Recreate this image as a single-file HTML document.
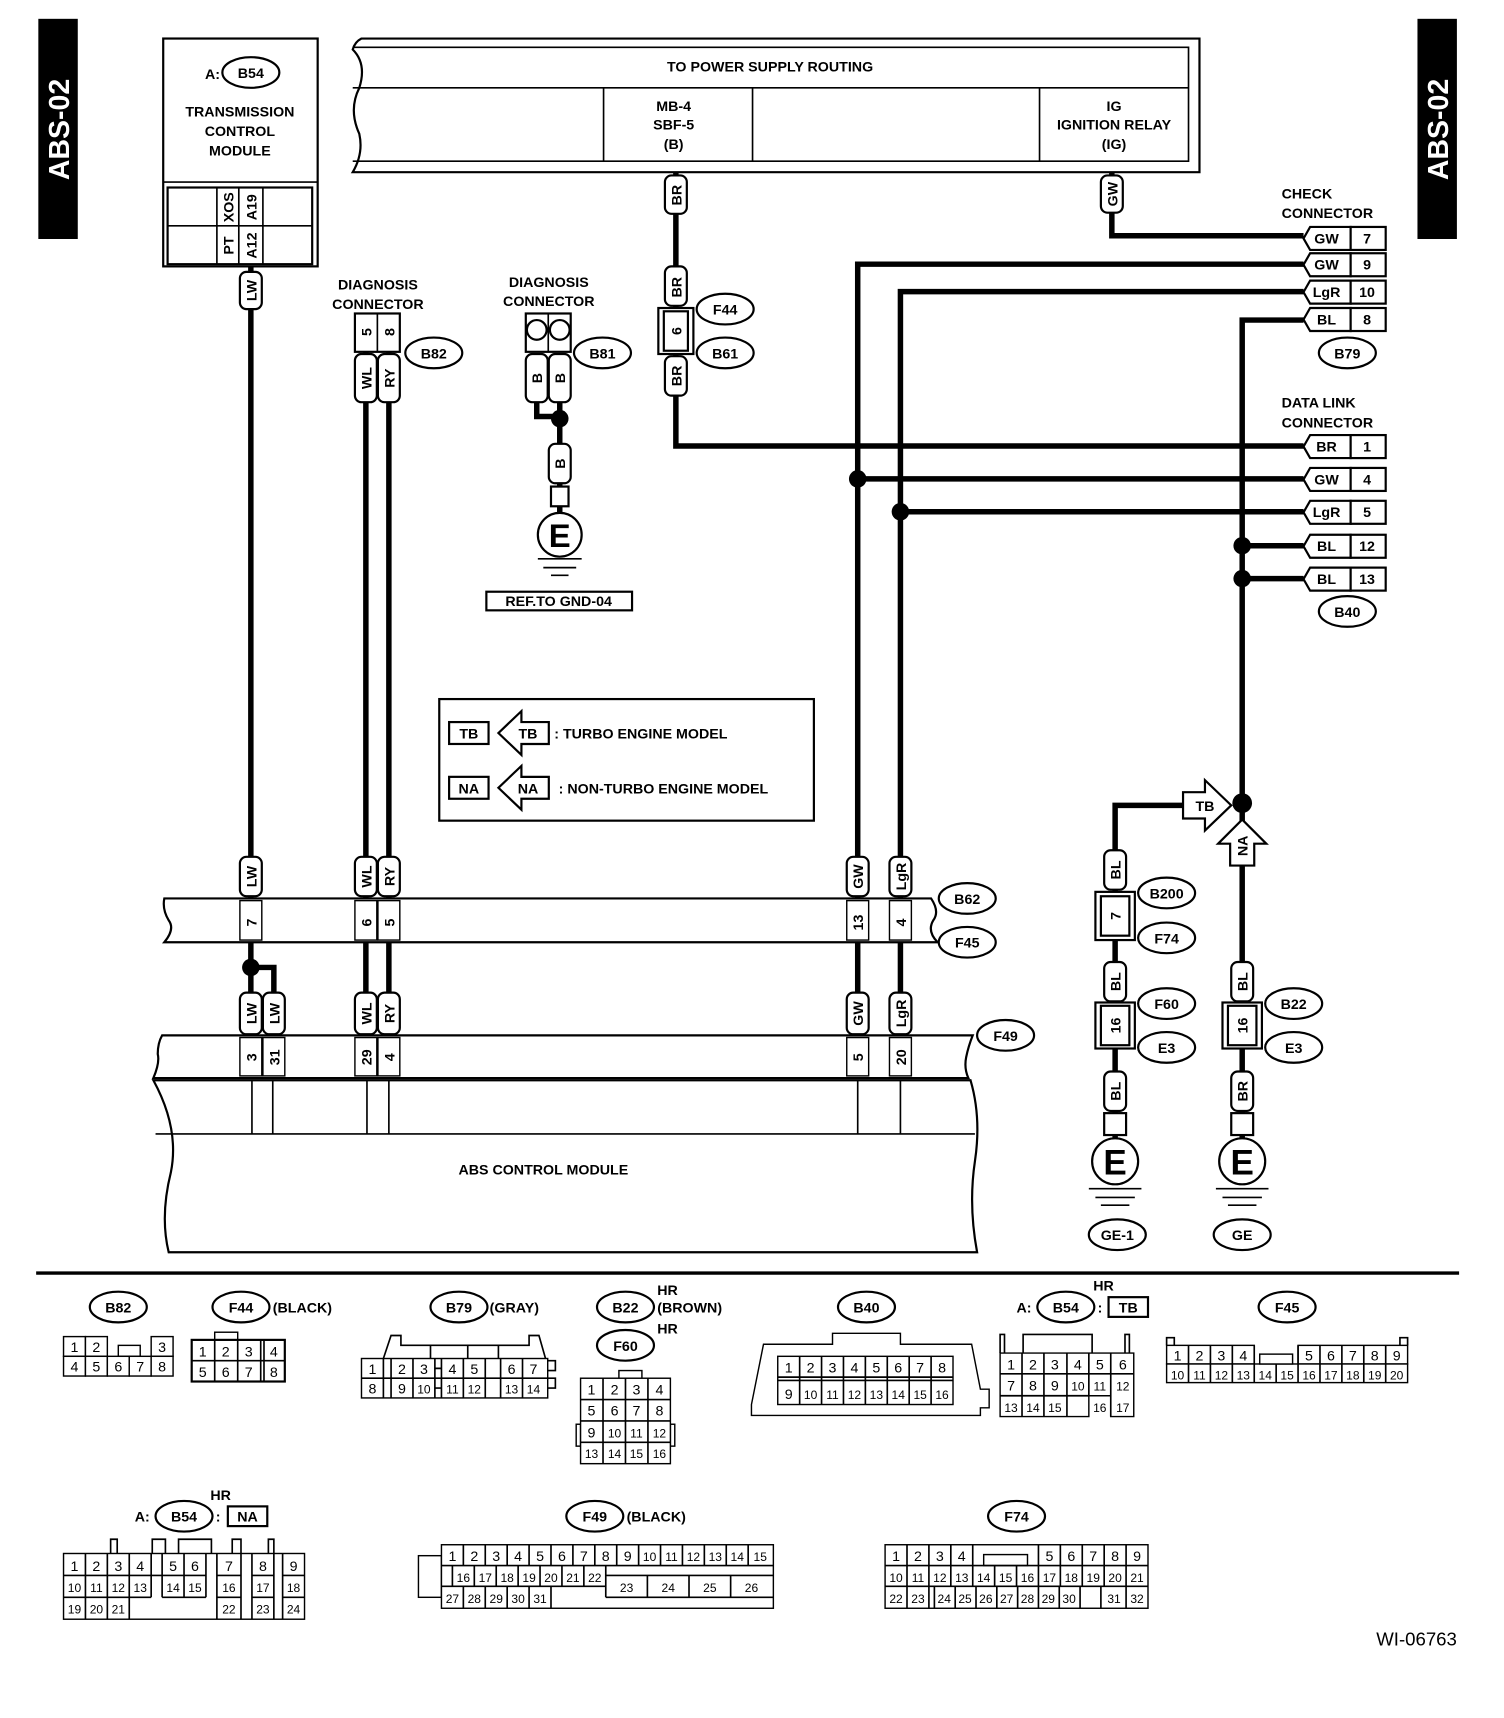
<!DOCTYPE html>
<html><head><meta charset="utf-8"><style>
html,body{margin:0;padding:0;background:#fff}
svg{display:block}
text{font-family:"Liberation Sans",sans-serif}
.b{font-weight:bold;font-size:13px}
.n{font-size:13px}
.o{fill:#fff;stroke:#000;stroke-width:2}
.w{fill:none;stroke:#000;stroke-width:5}
.l{fill:none;stroke:#000;stroke-width:1.5}
.c{fill:#fff;stroke:#000;stroke-width:1.3}
</style></head><body>
<svg width="1504" height="1718" viewBox="0 0 1373 1568" xmlns="http://www.w3.org/2000/svg">
<!-- side tabs -->
<rect x="35" y="17" width="36" height="201" fill="#000"/>
<text transform="translate(63,118) rotate(-90)" text-anchor="middle" fill="#fff" font-size="26" font-weight="bold">ABS-02</text>
<rect x="1294" y="17" width="36" height="201" fill="#000"/>
<text transform="translate(1322,118) rotate(-90)" text-anchor="middle" fill="#fff" font-size="26" font-weight="bold">ABS-02</text>

<!-- wires -->
<g class="w">
<path d="M229 243V945"/>
<path d="M334 320V945M355 320V945"/>
<path d="M490 360V380H511M511 360V470"/>
<path d="M617 157V407H1190"/>
<path d="M1015 157V215H1190"/>
<path d="M783 945V241H1190M783 437H1190"/>
<path d="M822 945V266H1190M822 467H1190"/>
<path d="M1134 1040V292H1190M1134 498H1190M1134 528H1190"/>
<path d="M1018 1040V735H1080"/>
<path d="M229 883H250V905"/>
</g>
<g fill="#000">
<circle cx="511" cy="382" r="8"/><circle cx="783" cy="437" r="8"/><circle cx="822" cy="467" r="8"/>
<circle cx="1134" cy="498" r="8"/><circle cx="1134" cy="528" r="8"/><circle cx="1134" cy="733" r="9"/>
<circle cx="229" cy="883" r="8"/>
</g>

<!-- TCM -->
<rect x="149" y="35" width="141" height="208" class="o"/>
<line x1="149" y1="166" x2="290" y2="166" class="l" stroke-width="2"/>
<rect x="153" y="171" width="132" height="70" class="o"/>
<path d="M153 206H285M198 171V241M218 171V241M240 171V241" class="l"/>
<text x="194" y="72" class="b" text-anchor="middle">A:</text>
<ellipse cx="229" cy="66" rx="26" ry="14" class="o"/><text x="229" y="71" class="b" text-anchor="middle">B54</text>
<text x="219" y="106" class="b" text-anchor="middle">TRANSMISSION</text>
<text x="219" y="124" class="b" text-anchor="middle">CONTROL</text>
<text x="219" y="142" class="b" text-anchor="middle">MODULE</text>
<text transform="translate(213,189) rotate(-90)" class="b" text-anchor="middle">XOS</text>
<text transform="translate(234,189) rotate(-90)" class="b" text-anchor="middle">A19</text>
<text transform="translate(213,224) rotate(-90)" class="b" text-anchor="middle">PT</text>
<text transform="translate(234,224) rotate(-90)" class="b" text-anchor="middle">A12</text>

<!-- power supply -->
<path d="M330 35H1095V157H322Q332 140 328 122Q318 100 328 80Q335 58 322 45Q324 38 330 35Z" class="o"/>
<path d="M322 43H1085V147H322M322 80H1085M551 80V147M687 80V147M949 80V147" class="l"/>
<text x="703" y="65" class="b" text-anchor="middle">TO POWER SUPPLY ROUTING</text>
<text x="615" y="101" class="b" text-anchor="middle">MB-4</text>
<text x="615" y="118" class="b" text-anchor="middle">SBF-5</text>
<text x="615" y="136" class="b" text-anchor="middle">(B)</text>
<text x="1017" y="101" class="b" text-anchor="middle">IG</text>
<text x="1017" y="118" class="b" text-anchor="middle">IGNITION RELAY</text>
<text x="1017" y="136" class="b" text-anchor="middle">(IG)</text>

<!-- wire label boxes -->
<g>
<rect x="219" y="248" width="20" height="34" rx="6" class="o"/><text transform="translate(234,265) rotate(-90)" class="b" text-anchor="middle">LW</text>
<rect x="607" y="160" width="20" height="35" rx="6" class="o"/><text transform="translate(622,178) rotate(-90)" class="b" text-anchor="middle">BR</text>
<rect x="607" y="243" width="20" height="36" rx="6" class="o"/><text transform="translate(622,262) rotate(-90)" class="b" text-anchor="middle">BR</text>
<rect x="601" y="281" width="32" height="42" class="o"/><rect x="606" y="284" width="22" height="36" class="o"/><text transform="translate(622,302) rotate(-90)" class="b" text-anchor="middle">6</text>
<rect x="607" y="325" width="20" height="36" rx="6" class="o"/><text transform="translate(622,343) rotate(-90)" class="b" text-anchor="middle">BR</text>
<rect x="1005" y="160" width="20" height="34" rx="6" class="o"/><text transform="translate(1020,177) rotate(-90)" class="b" text-anchor="middle">GW</text>
<!-- B82 -->
<rect x="324" y="286" width="41" height="35" class="o"/><line x1="344.5" y1="286" x2="344.5" y2="321" class="l"/>
<text transform="translate(339,303) rotate(-90)" class="b" text-anchor="middle">5</text>
<text transform="translate(360,303) rotate(-90)" class="b" text-anchor="middle">8</text>
<rect x="324" y="323" width="20" height="44" rx="6" class="o"/><text transform="translate(339,345) rotate(-90)" class="b" text-anchor="middle">WL</text>
<rect x="345" y="323" width="20" height="44" rx="6" class="o"/><text transform="translate(360,345) rotate(-90)" class="b" text-anchor="middle">RY</text>
<!-- B81 -->
<rect x="480" y="286" width="41" height="35" class="o"/><line x1="500.5" y1="286" x2="500.5" y2="321" class="l"/>
<circle cx="490" cy="301" r="9" class="o"/><circle cx="511" cy="301" r="9" class="o"/>
<rect x="480" y="323" width="20" height="44" rx="6" class="o"/><text transform="translate(495,345) rotate(-90)" class="b" text-anchor="middle">B</text>
<rect x="501" y="323" width="20" height="44" rx="6" class="o"/><text transform="translate(516,345) rotate(-90)" class="b" text-anchor="middle">B</text>
<rect x="501" y="405" width="20" height="36" rx="6" class="o"/><text transform="translate(516,423) rotate(-90)" class="b" text-anchor="middle">B</text>
<rect x="503" y="444" width="16" height="18" class="o"/>
<circle cx="511" cy="488" r="20" class="o"/><text x="511" y="499" text-anchor="middle" font-size="30" font-weight="bold">E</text>
<path d="M491 510H531M496 518H526M503 525H519" class="l" stroke-width="2"/>
<rect x="444" y="540" width="133" height="17" class="o"/><text x="510" y="553" class="b" text-anchor="middle">REF.TO GND-04</text>
</g>
<text x="345" y="264" class="b" text-anchor="middle">DIAGNOSIS</text>
<text x="345" y="282" class="b" text-anchor="middle">CONNECTOR</text>
<text x="501" y="262" class="b" text-anchor="middle">DIAGNOSIS</text>
<text x="501" y="279" class="b" text-anchor="middle">CONNECTOR</text>
<ellipse cx="396" cy="322" rx="26" ry="14" class="o"/><text x="396" y="327" class="b" text-anchor="middle">B82</text>
<ellipse cx="550" cy="322" rx="26" ry="14" class="o"/><text x="550" y="327" class="b" text-anchor="middle">B81</text>
<ellipse cx="662" cy="282" rx="26" ry="14" class="o"/><text x="662" y="287" class="b" text-anchor="middle">F44</text>
<ellipse cx="662" cy="322" rx="26" ry="14" class="o"/><text x="662" y="327" class="b" text-anchor="middle">B61</text>

<!-- check connector -->
<text x="1170" y="181" class="b">CHECK</text>
<text x="1170" y="199" class="b">CONNECTOR</text>
<g>
<path d="M1196 207H1233V228H1196L1190 217.5Z" class="o"/><rect x="1233" y="207" width="32" height="21" class="o"/>
<text x="1211" y="222" class="b" text-anchor="middle">GW</text><text x="1248" y="222" class="b" text-anchor="middle">7</text>
<path d="M1196 231H1233V252H1196L1190 241.5Z" class="o"/><rect x="1233" y="231" width="32" height="21" class="o"/>
<text x="1211" y="246" class="b" text-anchor="middle">GW</text><text x="1248" y="246" class="b" text-anchor="middle">9</text>
<path d="M1196 256H1233V277H1196L1190 266.5Z" class="o"/><rect x="1233" y="256" width="32" height="21" class="o"/>
<text x="1211" y="271" class="b" text-anchor="middle">LgR</text><text x="1248" y="271" class="b" text-anchor="middle">10</text>
<path d="M1196 281H1233V302H1196L1190 291.5Z" class="o"/><rect x="1233" y="281" width="32" height="21" class="o"/>
<text x="1211" y="296" class="b" text-anchor="middle">BL</text><text x="1248" y="296" class="b" text-anchor="middle">8</text>
</g>
<ellipse cx="1230" cy="322" rx="26" ry="14" class="o"/><text x="1230" y="327" class="b" text-anchor="middle">B79</text>

<!-- data link -->
<text x="1170" y="372" class="b">DATA LINK</text>
<text x="1170" y="390" class="b">CONNECTOR</text>
<g>
<path d="M1196 397H1233V418H1196L1190 407.5Z" class="o"/><rect x="1233" y="397" width="32" height="21" class="o"/>
<text x="1211" y="412" class="b" text-anchor="middle">BR</text><text x="1248" y="412" class="b" text-anchor="middle">1</text>
<path d="M1196 427H1233V448H1196L1190 437.5Z" class="o"/><rect x="1233" y="427" width="32" height="21" class="o"/>
<text x="1211" y="442" class="b" text-anchor="middle">GW</text><text x="1248" y="442" class="b" text-anchor="middle">4</text>
<path d="M1196 457H1233V478H1196L1190 467.5Z" class="o"/><rect x="1233" y="457" width="32" height="21" class="o"/>
<text x="1211" y="472" class="b" text-anchor="middle">LgR</text><text x="1248" y="472" class="b" text-anchor="middle">5</text>
<path d="M1196 488H1233V509H1196L1190 498.5Z" class="o"/><rect x="1233" y="488" width="32" height="21" class="o"/>
<text x="1211" y="503" class="b" text-anchor="middle">BL</text><text x="1248" y="503" class="b" text-anchor="middle">12</text>
<path d="M1196 518H1233V539H1196L1190 528.5Z" class="o"/><rect x="1233" y="518" width="32" height="21" class="o"/>
<text x="1211" y="533" class="b" text-anchor="middle">BL</text><text x="1248" y="533" class="b" text-anchor="middle">13</text>
</g>
<ellipse cx="1230" cy="558" rx="26" ry="14" class="o"/><text x="1230" y="563" class="b" text-anchor="middle">B40</text>

<!-- legend -->
<rect x="401" y="638" width="342" height="111" class="o"/>
<rect x="410" y="659" width="36" height="20" class="o"/><text x="428" y="674" class="b" text-anchor="middle">TB</text>
<path d="M455 669L476 649V659H501V679H476V689Z" class="o"/><text x="482" y="674" class="b" text-anchor="middle">TB</text>
<text x="506" y="674" class="b">: TURBO ENGINE MODEL</text>
<rect x="410" y="709" width="36" height="20" class="o"/><text x="428" y="724" class="b" text-anchor="middle">NA</text>
<path d="M455 719L476 699V709H501V729H476V739Z" class="o"/><text x="482" y="724" class="b" text-anchor="middle">NA</text>
<text x="510" y="724" class="b">: NON-TURBO ENGINE MODEL</text>

<!-- B62/F45 band -->
<path d="M150 820H850Q858 832 852 840Q846 850 856 860H150Q160 848 154 840Q148 830 150 820Z" class="o"/>
<g>
<rect x="219" y="822" width="20" height="36" class="c"/><text transform="translate(234,842) rotate(-90)" class="b" text-anchor="middle">7</text>
<rect x="324" y="822" width="20" height="36" class="c"/><text transform="translate(339,842) rotate(-90)" class="b" text-anchor="middle">6</text>
<rect x="345" y="822" width="20" height="36" class="c"/><text transform="translate(360,842) rotate(-90)" class="b" text-anchor="middle">5</text>
<rect x="773" y="822" width="20" height="36" class="c"/><text transform="translate(788,842) rotate(-90)" class="b" text-anchor="middle">13</text>
<rect x="812" y="822" width="20" height="36" class="c"/><text transform="translate(827,842) rotate(-90)" class="b" text-anchor="middle">4</text>
</g>
<ellipse cx="883" cy="820" rx="26" ry="14" class="o"/><text x="883" y="825" class="b" text-anchor="middle">B62</text>
<ellipse cx="883" cy="860" rx="26" ry="14" class="o"/><text x="883" y="865" class="b" text-anchor="middle">F45</text>
<!-- upper wire labels -->
<g>
<rect x="219" y="782" width="20" height="36" rx="6" class="o"/><text transform="translate(234,800) rotate(-90)" class="b" text-anchor="middle">LW</text>
<rect x="324" y="782" width="20" height="36" rx="6" class="o"/><text transform="translate(339,800) rotate(-90)" class="b" text-anchor="middle">WL</text>
<rect x="345" y="782" width="20" height="36" rx="6" class="o"/><text transform="translate(360,800) rotate(-90)" class="b" text-anchor="middle">RY</text>
<rect x="773" y="782" width="20" height="36" rx="6" class="o"/><text transform="translate(788,800) rotate(-90)" class="b" text-anchor="middle">GW</text>
<rect x="812" y="782" width="20" height="36" rx="6" class="o"/><text transform="translate(827,800) rotate(-90)" class="b" text-anchor="middle">LgR</text>
<rect x="219" y="906" width="20" height="38" rx="6" class="o"/><text transform="translate(234,925) rotate(-90)" class="b" text-anchor="middle">LW</text>
<rect x="240" y="906" width="20" height="38" rx="6" class="o"/><text transform="translate(255,925) rotate(-90)" class="b" text-anchor="middle">LW</text>
<rect x="324" y="906" width="20" height="38" rx="6" class="o"/><text transform="translate(339,925) rotate(-90)" class="b" text-anchor="middle">WL</text>
<rect x="345" y="906" width="20" height="38" rx="6" class="o"/><text transform="translate(360,925) rotate(-90)" class="b" text-anchor="middle">RY</text>
<rect x="773" y="906" width="20" height="38" rx="6" class="o"/><text transform="translate(788,925) rotate(-90)" class="b" text-anchor="middle">GW</text>
<rect x="812" y="906" width="20" height="38" rx="6" class="o"/><text transform="translate(827,925) rotate(-90)" class="b" text-anchor="middle">LgR</text>
</g>
<!-- F49 band & ABS module -->
<path d="M148 945H888Q884 955 882 965Q880 975 884 984H140Q146 970 144 962Q144 952 148 945Z" class="o"/>
<g>
<rect x="219" y="947" width="20" height="35" class="c"/><text transform="translate(234,965) rotate(-90)" class="b" text-anchor="middle">3</text>
<rect x="240" y="947" width="20" height="35" class="c"/><text transform="translate(255,965) rotate(-90)" class="b" text-anchor="middle">31</text>
<rect x="324" y="947" width="20" height="35" class="c"/><text transform="translate(339,965) rotate(-90)" class="b" text-anchor="middle">29</text>
<rect x="345" y="947" width="20" height="35" class="c"/><text transform="translate(360,965) rotate(-90)" class="b" text-anchor="middle">4</text>
<rect x="773" y="947" width="20" height="35" class="c"/><text transform="translate(788,965) rotate(-90)" class="b" text-anchor="middle">5</text>
<rect x="812" y="947" width="20" height="35" class="c"/><text transform="translate(827,965) rotate(-90)" class="b" text-anchor="middle">20</text>
</g>
<ellipse cx="918" cy="945" rx="26" ry="14" class="o"/><text x="918" y="950" class="b" text-anchor="middle">F49</text>
<path d="M140 986H886Q896 1020 890 1060Q884 1100 892 1143H154Q146 1110 156 1070Q164 1030 140 986Z" class="o"/>
<path d="M142 1035H890M230 986V1035M249 986V1035M335 986V1035M355 986V1035M783 986V1035M822 986V1035" class="l"/>
<text x="496" y="1072" class="b" text-anchor="middle">ABS CONTROL MODULE</text>

<!-- right grounds -->
<path d="M1080 723H1100V712L1124 735L1100 758V747H1080Z" class="o"/><text x="1100" y="740" class="b" text-anchor="middle">TB</text>
<path d="M1134 748L1156 770H1145V790H1123V770H1112Z" class="o"/><text transform="translate(1139,772) rotate(-90)" class="b" text-anchor="middle">NA</text>
<g>
<rect x="1008" y="776" width="20" height="36" rx="6" class="o"/><text transform="translate(1023,794) rotate(-90)" class="b" text-anchor="middle">BL</text>
<rect x="1000" y="814" width="36" height="44" class="o"/><rect x="1005" y="818" width="26" height="36" class="o"/><text transform="translate(1023,836) rotate(-90)" class="b" text-anchor="middle">7</text>
<rect x="1008" y="878" width="20" height="36" rx="6" class="o"/><text transform="translate(1023,896) rotate(-90)" class="b" text-anchor="middle">BL</text>
<rect x="1000" y="915" width="36" height="42" class="o"/><rect x="1005" y="918" width="26" height="36" class="o"/><text transform="translate(1023,936) rotate(-90)" class="b" text-anchor="middle">16</text>
<rect x="1008" y="978" width="20" height="36" rx="6" class="o"/><text transform="translate(1023,996) rotate(-90)" class="b" text-anchor="middle">BL</text>
<rect x="1008" y="1016" width="20" height="20" class="o"/>
<circle cx="1018" cy="1060" r="21" class="o"/><text x="1018" y="1072" text-anchor="middle" font-size="32" font-weight="bold">E</text>
<path d="M994 1085H1042M1000 1093H1036M1005 1100H1031" class="l" stroke-width="2"/>
<ellipse cx="1020" cy="1127" rx="26" ry="14" class="o"/><text x="1020" y="1132" class="b" text-anchor="middle">GE-1</text>

<rect x="1124" y="878" width="20" height="36" rx="6" class="o"/><text transform="translate(1139,896) rotate(-90)" class="b" text-anchor="middle">BL</text>
<rect x="1116" y="915" width="36" height="42" class="o"/><rect x="1121" y="918" width="26" height="36" class="o"/><text transform="translate(1139,936) rotate(-90)" class="b" text-anchor="middle">16</text>
<rect x="1124" y="978" width="20" height="36" rx="6" class="o"/><text transform="translate(1139,996) rotate(-90)" class="b" text-anchor="middle">BR</text>
<rect x="1124" y="1016" width="20" height="20" class="o"/>
<circle cx="1134" cy="1060" r="21" class="o"/><text x="1134" y="1072" text-anchor="middle" font-size="32" font-weight="bold">E</text>
<path d="M1110 1085H1158M1116 1093H1152M1121 1100H1147" class="l" stroke-width="2"/>
<ellipse cx="1134" cy="1127" rx="26" ry="14" class="o"/><text x="1134" y="1132" class="b" text-anchor="middle">GE</text>
</g>
<ellipse cx="1065" cy="815" rx="26" ry="14" class="o"/><text x="1065" y="820" class="b" text-anchor="middle">B200</text>
<ellipse cx="1065" cy="856" rx="26" ry="14" class="o"/><text x="1065" y="861" class="b" text-anchor="middle">F74</text>
<ellipse cx="1065" cy="916" rx="26" ry="14" class="o"/><text x="1065" y="921" class="b" text-anchor="middle">F60</text>
<ellipse cx="1065" cy="956" rx="26" ry="14" class="o"/><text x="1065" y="961" class="b" text-anchor="middle">E3</text>
<ellipse cx="1181" cy="916" rx="26" ry="14" class="o"/><text x="1181" y="921" class="b" text-anchor="middle">B22</text>
<ellipse cx="1181" cy="956" rx="26" ry="14" class="o"/><text x="1181" y="961" class="b" text-anchor="middle">E3</text>

<!-- separator -->
<line x1="33" y1="1162" x2="1332" y2="1162" stroke="#000" stroke-width="3"/>

<!-- bottom connector titles -->
<g>
<ellipse cx="108" cy="1193" rx="26" ry="14" class="o"/><text x="108" y="1198" class="b" text-anchor="middle">B82</text>
<ellipse cx="220" cy="1193" rx="26" ry="14" class="o"/><text x="220" y="1198" class="b" text-anchor="middle">F44</text><text x="249" y="1198" class="b">(BLACK)</text>
<ellipse cx="419" cy="1193" rx="26" ry="14" class="o"/><text x="419" y="1198" class="b" text-anchor="middle">B79</text><text x="447" y="1198" class="b">(GRAY)</text>
<ellipse cx="571" cy="1193" rx="26" ry="14" class="o"/><text x="571" y="1198" class="b" text-anchor="middle">B22</text><text x="600" y="1182" class="b">HR</text><text x="600" y="1198" class="b">(BROWN)</text>
<ellipse cx="571" cy="1228" rx="26" ry="14" class="o"/><text x="571" y="1233" class="b" text-anchor="middle">F60</text><text x="600" y="1217" class="b">HR</text>
<ellipse cx="791" cy="1193" rx="26" ry="14" class="o"/><text x="791" y="1198" class="b" text-anchor="middle">B40</text>
<text x="928" y="1198" class="b">A:</text><ellipse cx="973" cy="1193" rx="26" ry="14" class="o"/><text x="973" y="1198" class="b" text-anchor="middle">B54</text><text x="998" y="1178" class="b">HR</text><text x="1002" y="1198" class="b">:</text><rect x="1012" y="1184" width="36" height="18" class="o"/><text x="1030" y="1198" class="b" text-anchor="middle">TB</text>
<ellipse cx="1175" cy="1193" rx="26" ry="14" class="o"/><text x="1175" y="1198" class="b" text-anchor="middle">F45</text>
<text x="123" y="1389" class="b">A:</text><ellipse cx="168" cy="1384" rx="26" ry="14" class="o"/><text x="168" y="1389" class="b" text-anchor="middle">B54</text><text x="192" y="1369" class="b">HR</text><text x="197" y="1389" class="b">:</text><rect x="208" y="1375" width="36" height="18" class="o"/><text x="226" y="1389" class="b" text-anchor="middle">NA</text>
<ellipse cx="543" cy="1384" rx="26" ry="14" class="o"/><text x="543" y="1389" class="b" text-anchor="middle">F49</text><text x="572" y="1389" class="b">(BLACK)</text>
<ellipse cx="928" cy="1384" rx="26" ry="14" class="o"/><text x="928" y="1389" class="b" text-anchor="middle">F74</text>
</g>
<text x="1330" y="1502" font-size="17" text-anchor="end">WI-06763</text>

<!-- B82 -->
<g class="n" text-anchor="middle">
<rect x="108" y="1228" width="20" height="10" class="c"/>
<rect x="58" y="1220" width="20" height="18" class="c"/><text x="68" y="1234">1</text>
<rect x="78" y="1220" width="20" height="18" class="c"/><text x="88" y="1234">2</text>
<rect x="138" y="1220" width="20" height="18" class="c"/><text x="148" y="1234">3</text>
<rect x="58" y="1238" width="20" height="18" class="c"/><text x="68" y="1252">4</text>
<rect x="78" y="1238" width="20" height="18" class="c"/><text x="88" y="1252">5</text>
<rect x="98" y="1238" width="20" height="18" class="c"/><text x="108" y="1252">6</text>
<rect x="118" y="1238" width="20" height="18" class="c"/><text x="128" y="1252">7</text>
<rect x="138" y="1238" width="20" height="18" class="c"/><text x="148" y="1252">8</text>
</g>
<!-- F44 -->
<g class="n" text-anchor="middle">
<rect x="196" y="1216" width="21" height="7" class="c"/>
<rect x="175" y="1223" width="85" height="38" class="o"/>
<path d="M175 1242H260M196 1223V1261M217 1223V1261M238 1223V1261M241 1223V1261" class="l"/>
<text x="185" y="1238">1</text><text x="206" y="1238">2</text><text x="227" y="1238">3</text><text x="250" y="1238">4</text>
<text x="185" y="1257">5</text><text x="206" y="1257">6</text><text x="227" y="1257">7</text><text x="250" y="1257">8</text>
</g>
<!-- B79 -->
<g class="n" text-anchor="middle">
<path d="M350 1240L357 1219H366V1228H483V1219H492L498 1240" class="l"/>
<path d="M393 1228V1240M427 1228V1240M455 1228V1240" class="l"/>
<rect x="330" y="1240" width="170" height="36" class="c"/>
<path d="M330 1258H500M350 1240V1276M357 1240V1276M377 1240V1276M397 1240V1276M403 1240V1276M423 1240V1276M443 1240V1276M457 1240V1276M477 1240V1276M397 1249H403M397 1267H403" class="l"/>
<path d="M500 1242H507V1251H500M500 1258H507V1267H500" class="l"/>
<text x="340" y="1254">1</text><text x="367" y="1254">2</text><text x="387" y="1254">3</text><text x="413" y="1254">4</text><text x="433" y="1254">5</text><text x="467" y="1254">6</text><text x="487" y="1254">7</text>
<text x="340" y="1272">8</text><text x="367" y="1272">9</text><text x="387" y="1272" font-size="11">10</text><text x="413" y="1272" font-size="11">11</text><text x="433" y="1272" font-size="11">12</text><text x="467" y="1272" font-size="11">13</text><text x="487" y="1272" font-size="11">14</text>
</g>
<!-- F60 -->
<g class="n" text-anchor="middle">
<rect x="565" y="1251" width="21" height="7" class="c"/>
<rect x="526" y="1300" width="4" height="20" class="c"/><rect x="612" y="1300" width="4" height="20" class="c"/>
<rect x="530" y="1258" width="82" height="78" class="c"/>
<path d="M530 1277.5H612M530 1297H612M530 1316.5H612M550.5 1258V1336M571 1258V1336M591.5 1258V1336" class="l"/>
<text x="540" y="1273">1</text><text x="561" y="1273">2</text><text x="581" y="1273">3</text><text x="602" y="1273">4</text>
<text x="540" y="1292">5</text><text x="561" y="1292">6</text><text x="581" y="1292">7</text><text x="602" y="1292">8</text>
<text x="540" y="1312">9</text><text x="561" y="1312" font-size="11">10</text><text x="581" y="1312" font-size="11">11</text><text x="602" y="1312" font-size="11">12</text>
<text x="540" y="1331" font-size="11">13</text><text x="561" y="1331" font-size="11">14</text><text x="581" y="1331" font-size="11">15</text><text x="602" y="1331" font-size="11">16</text>
</g>
<!-- B40 -->
<g class="n" text-anchor="middle">
<path d="M697 1227H760V1217H822V1227H887L895 1268H903V1285H895V1292H686V1282L697 1227Z" class="c"/>
<rect x="710" y="1238" width="160" height="44" class="c"/>
<path d="M710 1257H870M710 1260H870M730 1238V1282M750 1238V1282M770 1238V1282M790 1238V1282M810 1238V1282M830 1238V1282M850 1238V1282" class="l"/>
<text x="720" y="1253">1</text><text x="740" y="1253">2</text><text x="760" y="1253">3</text><text x="780" y="1253">4</text><text x="800" y="1253">5</text><text x="820" y="1253">6</text><text x="840" y="1253">7</text><text x="860" y="1253">8</text>
<text x="720" y="1277">9</text><text x="740" y="1277" font-size="11">10</text><text x="760" y="1277" font-size="11">11</text><text x="780" y="1277" font-size="11">12</text><text x="800" y="1277" font-size="11">13</text><text x="820" y="1277" font-size="11">14</text><text x="840" y="1277" font-size="11">15</text><text x="860" y="1277" font-size="11">16</text>
</g>
<!-- B54 TB -->
<g class="n" text-anchor="middle">
<path d="M913 1235V1218H917V1235M934 1235V1218H997V1235M1027 1235V1218H1031V1235" class="l"/>
<path d="M913 1235H1035V1293H1014V1274H994V1293H913Z" class="c"/>
<path d="M913 1254H1035M913 1274H994M933 1235V1293M953 1235V1293M974 1235V1293M994 1235V1274M1014 1235V1274M1014 1274V1293" class="l"/>
<text x="923" y="1250">1</text><text x="943" y="1250">2</text><text x="963" y="1250">3</text><text x="984" y="1250">4</text><text x="1004" y="1250">5</text><text x="1025" y="1250">6</text>
<text x="923" y="1269">7</text><text x="943" y="1269">8</text><text x="963" y="1269">9</text><text x="984" y="1269" font-size="11">10</text><text x="1004" y="1269" font-size="11">11</text><text x="1025" y="1269" font-size="11">12</text>
<text x="923" y="1289" font-size="11">13</text><text x="943" y="1289" font-size="11">14</text><text x="963" y="1289" font-size="11">15</text><text x="1004" y="1289" font-size="11">16</text><text x="1025" y="1289" font-size="11">17</text>
</g>
<!-- F45 -->
<g class="n" text-anchor="middle">
<path d="M1065 1228V1221H1072V1228M1278 1228V1221H1285V1228" class="l"/>
<rect x="1065" y="1228" width="80" height="17" class="c"/>
<rect x="1185" y="1228" width="100" height="17" class="c"/>
<rect x="1065" y="1245" width="220" height="17" class="c"/>
<rect x="1150" y="1236" width="30" height="9" class="c"/>
<path d="M1085 1228V1262M1105 1228V1262M1125 1228V1262M1145 1228V1262M1165 1245V1262M1185 1228V1262M1205 1228V1262M1225 1228V1262M1245 1228V1262M1265 1228V1262" class="l"/>
<text x="1075" y="1242">1</text><text x="1095" y="1242">2</text><text x="1115" y="1242">3</text><text x="1135" y="1242">4</text>
<text x="1195" y="1242">5</text><text x="1215" y="1242">6</text><text x="1235" y="1242">7</text><text x="1255" y="1242">8</text><text x="1275" y="1242">9</text>
<text x="1075" y="1259" font-size="11">10</text><text x="1095" y="1259" font-size="11">11</text><text x="1115" y="1259" font-size="11">12</text><text x="1135" y="1259" font-size="11">13</text><text x="1155" y="1259" font-size="11">14</text><text x="1175" y="1259" font-size="11">15</text><text x="1195" y="1259" font-size="11">16</text><text x="1215" y="1259" font-size="11">17</text><text x="1235" y="1259" font-size="11">18</text><text x="1255" y="1259" font-size="11">19</text><text x="1275" y="1259" font-size="11">20</text>
</g>
<!-- B54 NA -->
<g class="n" text-anchor="middle">
<path d="M101 1418V1405H107V1418M139 1418V1405H151V1418M163 1418V1405H193V1418M212 1418V1405H220V1418M245 1418V1405H250V1418" class="l"/>
<rect x="58" y="1418" width="220" height="60" class="c"/>
<path d="M58 1438H148M58 1458H138M148 1438H188M198 1438H220M198 1458H220M230 1438H250M230 1458H250M258 1438H278M258 1458H278M78 1418V1478M98 1418V1478M118 1418V1478M138 1418V1458M148 1418V1458M168 1418V1458M188 1418V1458M198 1418V1478M220 1418V1478M230 1418V1478M250 1418V1478M258 1418V1478M148 1458H188" class="l"/>
<text x="68" y="1434">1</text><text x="88" y="1434">2</text><text x="108" y="1434">3</text><text x="128" y="1434">4</text><text x="158" y="1434">5</text><text x="178" y="1434">6</text><text x="209" y="1434">7</text><text x="240" y="1434">8</text><text x="268" y="1434">9</text>
<text x="68" y="1453" font-size="11">10</text><text x="88" y="1453" font-size="11">11</text><text x="108" y="1453" font-size="11">12</text><text x="128" y="1453" font-size="11">13</text><text x="158" y="1453" font-size="11">14</text><text x="178" y="1453" font-size="11">15</text><text x="209" y="1453" font-size="11">16</text><text x="240" y="1453" font-size="11">17</text><text x="268" y="1453" font-size="11">18</text>
<text x="68" y="1473" font-size="11">19</text><text x="88" y="1473" font-size="11">20</text><text x="108" y="1473" font-size="11">21</text><text x="209" y="1473" font-size="11">22</text><text x="240" y="1473" font-size="11">23</text><text x="268" y="1473" font-size="11">24</text>
</g>
<!-- F49 -->
<g class="n" text-anchor="middle">
<rect x="382" y="1420" width="21" height="38" class="c"/>
<rect x="403" y="1410" width="303" height="58" class="c"/>
<path d="M403 1429H706M403 1448H553M553 1438H706M553 1458H706M413 1429V1448M423 1410V1429M443 1410V1429M463 1410V1429M483 1410V1429M503 1410V1429M523 1410V1429M543 1410V1429M563 1410V1429M583 1410V1429M603 1410V1429M623 1410V1429M643 1410V1429M663 1410V1429M683 1410V1429M433 1429V1448M453 1429V1448M473 1429V1448M493 1429V1448M513 1429V1448M533 1429V1448M553 1429V1458M591 1438V1458M629 1438V1458M667 1438V1458M423 1448V1468M443 1448V1468M463 1448V1468M483 1448V1468M503 1448V1468" class="l"/>
<text x="413" y="1425">1</text><text x="433" y="1425">2</text><text x="453" y="1425">3</text><text x="473" y="1425">4</text><text x="493" y="1425">5</text><text x="513" y="1425">6</text><text x="533" y="1425">7</text><text x="553" y="1425">8</text><text x="573" y="1425">9</text>
<text x="593" y="1425" font-size="11">10</text><text x="613" y="1425" font-size="11">11</text><text x="633" y="1425" font-size="11">12</text><text x="653" y="1425" font-size="11">13</text><text x="673" y="1425" font-size="11">14</text><text x="694" y="1425" font-size="11">15</text>
<text x="423" y="1444" font-size="11">16</text><text x="443" y="1444" font-size="11">17</text><text x="463" y="1444" font-size="11">18</text><text x="483" y="1444" font-size="11">19</text><text x="503" y="1444" font-size="11">20</text><text x="523" y="1444" font-size="11">21</text><text x="543" y="1444" font-size="11">22</text>
<text x="572" y="1453" font-size="11">23</text><text x="610" y="1453" font-size="11">24</text><text x="648" y="1453" font-size="11">25</text><text x="686" y="1453" font-size="11">26</text>
<text x="413" y="1463" font-size="11">27</text><text x="433" y="1463" font-size="11">28</text><text x="453" y="1463" font-size="11">29</text><text x="473" y="1463" font-size="11">30</text><text x="493" y="1463" font-size="11">31</text>
</g>
<!-- F74 -->
<g class="n" text-anchor="middle">
<rect x="808" y="1410" width="240" height="58" class="c"/>
<rect x="898" y="1419" width="40" height="10" class="c"/>
<path d="M808 1429H1048M808 1448H1048M828 1410V1468M848 1410V1448M868 1410V1448M888 1410V1448M908 1429V1448M928 1429V1448M948 1410V1448M968 1410V1448M988 1410V1448M1008 1410V1448M1028 1410V1468M848 1448V1468M853 1448V1468M872 1448V1468M891 1448V1468M910 1448V1468M929 1448V1468M948 1448V1468M967 1448V1468M986 1448V1468M1005 1448V1468" class="l"/>
<text x="818" y="1425">1</text><text x="838" y="1425">2</text><text x="858" y="1425">3</text><text x="878" y="1425">4</text><text x="958" y="1425">5</text><text x="978" y="1425">6</text><text x="998" y="1425">7</text><text x="1018" y="1425">8</text><text x="1038" y="1425">9</text>
<text x="818" y="1444" font-size="11">10</text><text x="838" y="1444" font-size="11">11</text><text x="858" y="1444" font-size="11">12</text><text x="878" y="1444" font-size="11">13</text><text x="898" y="1444" font-size="11">14</text><text x="918" y="1444" font-size="11">15</text><text x="938" y="1444" font-size="11">16</text><text x="958" y="1444" font-size="11">17</text><text x="978" y="1444" font-size="11">18</text><text x="998" y="1444" font-size="11">19</text><text x="1018" y="1444" font-size="11">20</text><text x="1038" y="1444" font-size="11">21</text>
<text x="818" y="1463" font-size="11">22</text><text x="838" y="1463" font-size="11">23</text><text x="862" y="1463" font-size="11">24</text><text x="881" y="1463" font-size="11">25</text><text x="900" y="1463" font-size="11">26</text><text x="919" y="1463" font-size="11">27</text><text x="938" y="1463" font-size="11">28</text><text x="957" y="1463" font-size="11">29</text><text x="976" y="1463" font-size="11">30</text><text x="1017" y="1463" font-size="11">31</text><text x="1038" y="1463" font-size="11">32</text>
</g>
</svg>
</body></html>
